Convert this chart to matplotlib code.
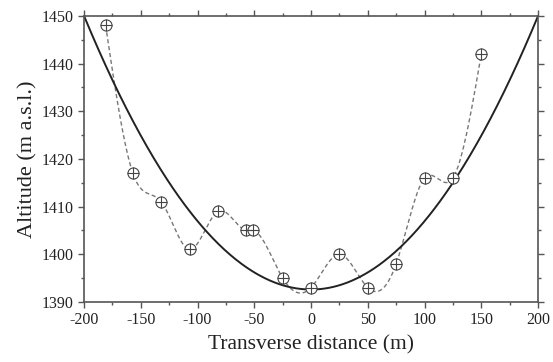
import numpy as np
import matplotlib
matplotlib.use('Agg')
import matplotlib.pyplot as plt
from matplotlib.ticker import MultipleLocator

# measured profile points
dist = [-181, -157, -132, -107, -82, -57, -51, -25, 0, 25, 50, 75, 100, 125, 150]
alt = [1448, 1417, 1411, 1401, 1409, 1405, 1405, 1395, 1393, 1400, 1393, 1398, 1416, 1416, 1442]

# fitted parabola: alt = c0 + c2 * x^2
fit_c0 = 1392.6
fit_c2 = 0.001435


def natural_spline(x, y, xs):
    x = np.asarray(x, float)
    y = np.asarray(y, float)
    n = len(x)
    h = np.diff(x)
    A = np.zeros((n, n))
    b = np.zeros(n)
    A[0, 0] = 1
    A[-1, -1] = 1
    for i in range(1, n - 1):
        A[i, i - 1] = h[i - 1]
        A[i, i] = 2 * (h[i - 1] + h[i])
        A[i, i + 1] = h[i]
        b[i] = 6 * ((y[i + 1] - y[i]) / h[i] - (y[i] - y[i - 1]) / h[i - 1])
    M = np.linalg.solve(A, b)
    out = np.empty_like(xs)
    for k, xv in enumerate(xs):
        i = min(max(np.searchsorted(x, xv) - 1, 0), n - 2)
        t1 = x[i + 1] - xv
        t0 = xv - x[i]
        out[k] = (M[i] * t1**3 + M[i + 1] * t0**3) / (6 * h[i]) \
            + (y[i] / h[i] - M[i] * h[i] / 6) * t1 \
            + (y[i + 1] / h[i] - M[i + 1] * h[i] / 6) * t0
    return out


plt.rcParams['font.family'] = ['Liberation Serif', 'DejaVu Serif']
plt.rcParams['axes.unicode_minus'] = False

fig = plt.figure(figsize=(5.53, 3.62), dpi=100)
ax = fig.add_axes([0.152, 0.166, 0.821, 0.790])

xs = np.linspace(dist[0], dist[-1], 600)
ax.plot(xs, natural_spline(dist, alt, xs), ls=(0, (3, 2)), color='#777777', lw=1.0)

xf = np.linspace(-200, 200, 400)
ax.plot(xf, fit_c0 + fit_c2 * xf**2, color='#222222', lw=1.4)

ax.plot(dist, alt, 'o', ms=8, mfc='white', mec='#444444', mew=0.8)
ax.plot(dist, alt, '+', ms=8, color='#444444', mew=0.8)

ax.set_xlim(-200, 200)
ax.set_ylim(1390, 1450)
ax.xaxis.set_major_locator(MultipleLocator(50))
ax.xaxis.set_minor_locator(MultipleLocator(25))
ax.yaxis.set_major_locator(MultipleLocator(10))
ax.yaxis.set_minor_locator(MultipleLocator(5))

for s in ax.spines.values():
    s.set_color('#555555')
    s.set_linewidth(1.2)
ax.tick_params(which='both', colors='#555555', labelcolor='#222222', labelsize=11.5,
               top=True, right=True, labeltop=False, labelright=False)
ax.tick_params(which='major', length=4, width=1)
ax.tick_params(which='minor', length=2.5, width=1)

ax.set_xlabel('Transverse distance (m)', fontsize=15.5, color='#222222', labelpad=5)
ax.set_ylabel('Altitude (m a.s.l.)', fontsize=16, color='#222222', labelpad=3)

fig.savefig('out.png', dpi=100)
plt.close(fig)
